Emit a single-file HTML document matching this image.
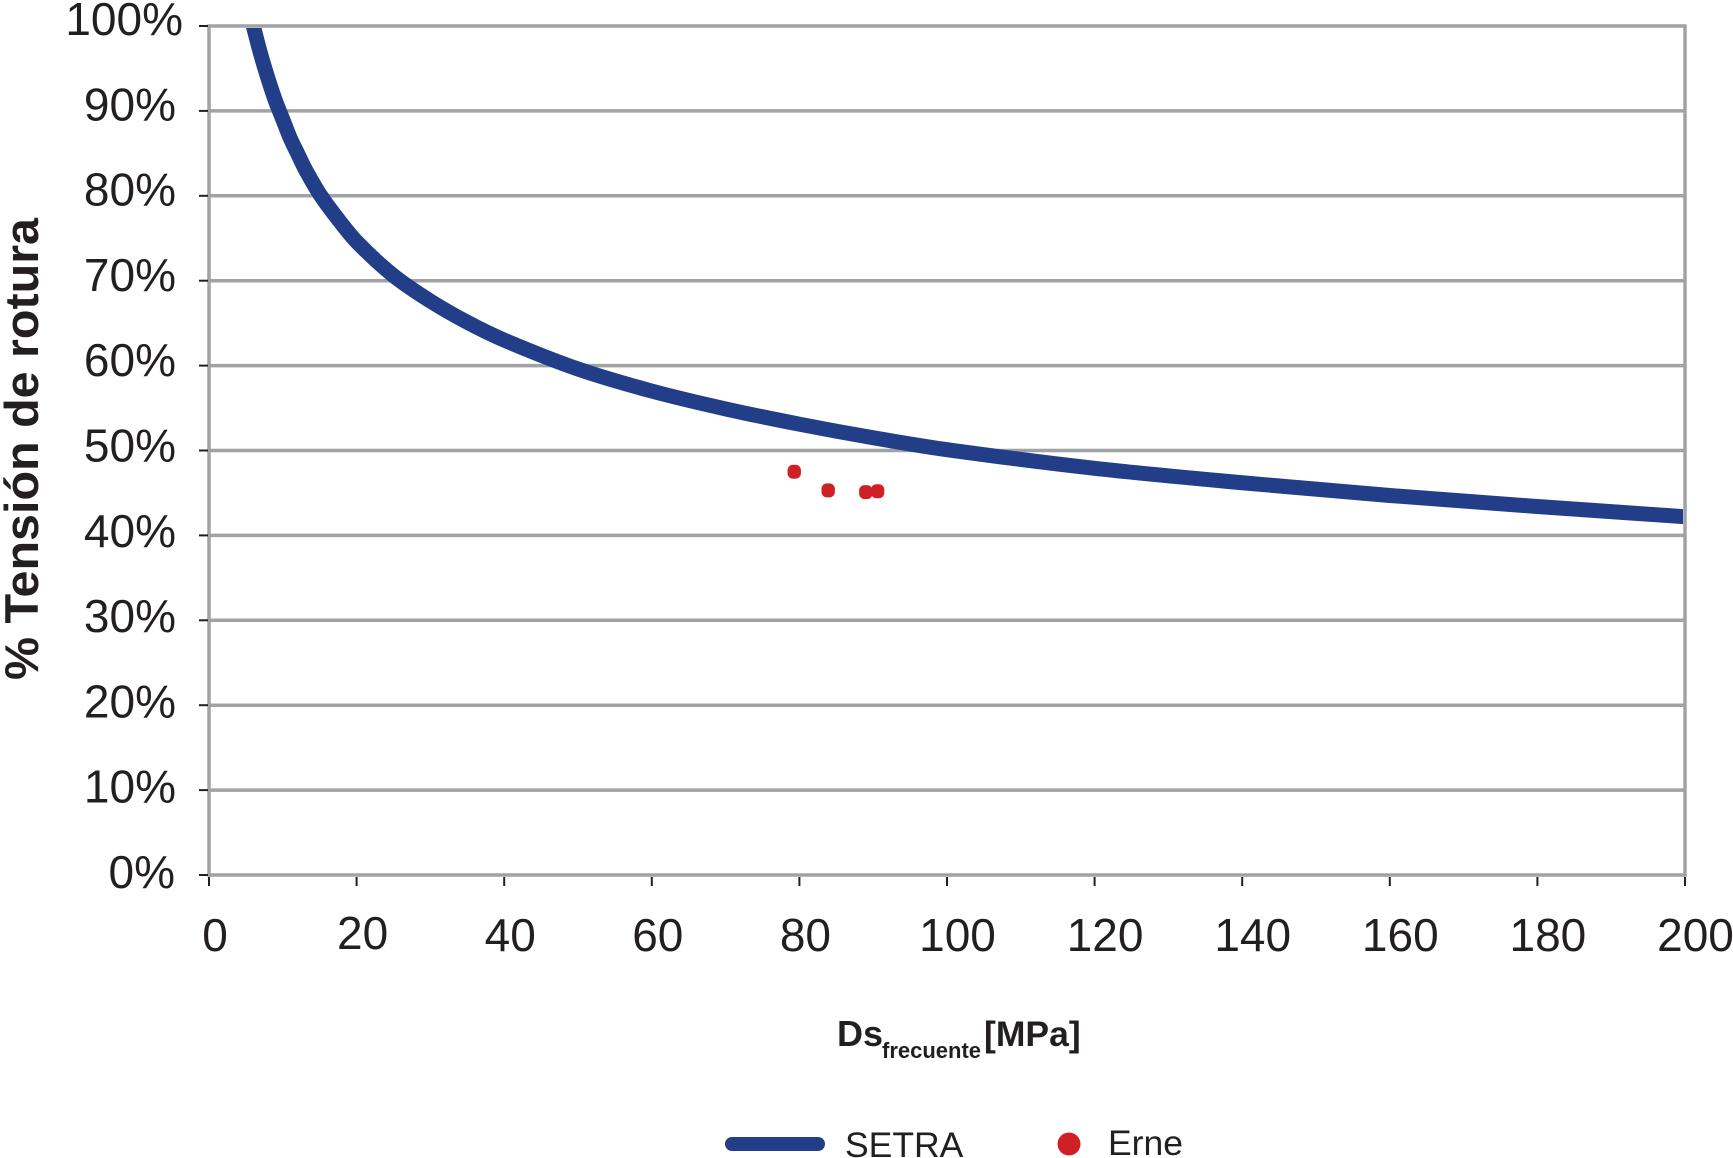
<!DOCTYPE html>
<html lang="es">
<head>
<meta charset="utf-8">
<title>% Tensión de rotura vs Ds frecuente</title>
<style>
html,body{margin:0;padding:0;background:#fff;}
svg{display:block;font-family:"Liberation Sans",Arial,sans-serif;}
</style>
</head>
<body>
<svg id="chart" width="1733" height="1158" viewBox="0 0 1733 1158" xmlns="http://www.w3.org/2000/svg">
  <defs>
    <clipPath id="plot-clip"><rect x="209" y="28" width="1474" height="847"></rect></clipPath>
  </defs>
  <g id="grid"></g>
  <g id="series" clip-path="url(#plot-clip)"></g>
  <g id="frame"></g>
  <g id="points"></g>
  <g id="yticks"></g>
  <g id="xticks"></g>

  <text transform="translate(38,680) rotate(-90)" font-size="47" font-weight="700" fill="#231f20" textLength="462" lengthAdjust="spacingAndGlyphs">% Tensión de rotura</text>

  <g font-weight="700" fill="#231f20">
    <text x="837" y="1046" font-size="36">Ds</text>
    <text x="882" y="1058" font-size="22">frecuente</text>
    <text x="984" y="1046" font-size="35.5">[MPa]</text>
  </g>

  <g>
    <rect x="725" y="1137" width="100" height="14" rx="7" fill="#233e88"></rect>
    <text x="845" y="1157" font-size="35.5" fill="#231f20">SETRA</text>
    <circle cx="1069" cy="1144" r="11.5" fill="#cf2026"></circle>
    <text x="1108" y="1155" font-size="35.5" fill="#231f20">Erne</text>
  </g>
</svg>
<script>
const yTickValues = [0, 10, 20, 30, 40, 50, 60, 70, 80, 90, 100];
const xTickValues = [0, 20, 40, 60, 80, 100, 120, 140, 160, 180, 200];
const setraX = [6, 7, 8, 9, 10, 11, 12, 13, 15, 17, 20, 25, 30, 35, 40, 50, 60, 70, 80, 90, 100, 120, 140, 160, 180, 200];
const setraY = [100, 96.7, 93.8, 91.2, 89, 86.8, 85, 83.2, 80.2, 77.8, 74.6, 70.6, 67.6, 65.1, 63, 59.6, 57, 54.9, 53.1, 51.5, 50.1, 47.9, 46.2, 44.7, 43.4, 42.2];
const erneX = [79.3, 83.9, 89, 90.6];
const erneY = [47.5, 45.3, 45.1, 45.2];

const NS = 'http://www.w3.org/2000/svg';
const sx = v => 209 + v * 7.38;
const sy = v => 875 - v * 8.49;
const make = (tag, attrs, parent) => {
  const el = document.createElementNS(NS, tag);
  for (const k in attrs) el.setAttribute(k, attrs[k]);
  parent.appendChild(el);
  return el;
};
const GRAY = '#a0a2a5', INK = '#231f20';
const gridG = document.getElementById('grid');
const seriesG = document.getElementById('series');
const frameG = document.getElementById('frame');
const pointsG = document.getElementById('points');
const yG = document.getElementById('yticks');
const xG = document.getElementById('xticks');

yTickValues.forEach(v => {
  const y = sy(v);
  const line = make('line', {x1: sx(0), x2: sx(200), y1: y, y2: y, stroke: GRAY, 'stroke-width': 3.5}, gridG);
  
  
  const tick = make('line', {x1: 199, x2: 208, y1: y, y2: y, stroke: INK, 'stroke-width': 2}, yG);
  
  
  const right = v === 100 ? 183 : (v === 0 ? 175 : 176);
  const label = make('text', {x: right, y: y + 9 + (100 - v) * 0.04, 'text-anchor': 'end', 'font-size': 46, fill: INK}, yG);
  label.textContent = v + '%';
  
  
});

xTickValues.forEach(v => {
  const x = sx(v);
  const tick = make('line', {x1: x, x2: x, y1: 877, y2: 886, stroke: INK, 'stroke-width': 2}, xG);
  
  
  const label = make('text', {x: x + (v < 100 ? 6 : 10.5), y: v === 20 ? 949 : 951, 'text-anchor': 'middle', 'font-size': 46, fill: INK}, xG);
  label.textContent = v;
  
  
});

const px = setraX.map(sx);
const py = setraY.map(sy);
let d = 'M' + px[0] + ' ' + py[0];
for (let i = 0; i < px.length - 1; i++) {
  const a = Math.max(i - 1, 0), b = i + 1, c = Math.min(i + 2, px.length - 1);
  const t0 = (py[b] - py[a]) / (px[b] - px[a]);
  const t1 = (py[c] - py[i]) / (px[c] - px[i]);
  const h = (px[b] - px[i]) / 3;
  d += ' C' + (px[i] + h) + ' ' + (py[i] + t0 * h) +
       ' ' + (px[b] - h) + ' ' + (py[b] - t1 * h) +
       ' ' + px[b] + ' ' + py[b];
}
const curve = make('path', {d: d, fill: 'none', stroke: '#233e88', 'stroke-width': 15, 'stroke-linejoin': 'round'}, seriesG);



const leftEdge = make('line', {x1: sx(0), x2: sx(0), y1: sy(100) - 1.75, y2: sy(0) + 1.75, stroke: GRAY, 'stroke-width': 3.5}, frameG);


const rightEdge = make('line', {x1: sx(200), x2: sx(200), y1: sy(100) - 1.75, y2: sy(0) + 1.75, stroke: GRAY, 'stroke-width': 3.5}, frameG);



erneX.forEach((v, i) => {
  const dot = make('rect', {x: sx(v) - 6.7, y: sy(erneY[i]) - 7, width: 13.4, height: 14, rx: 5.5, fill: '#cf2026'}, pointsG);
  
  
});
</script>
</body>
</html>
